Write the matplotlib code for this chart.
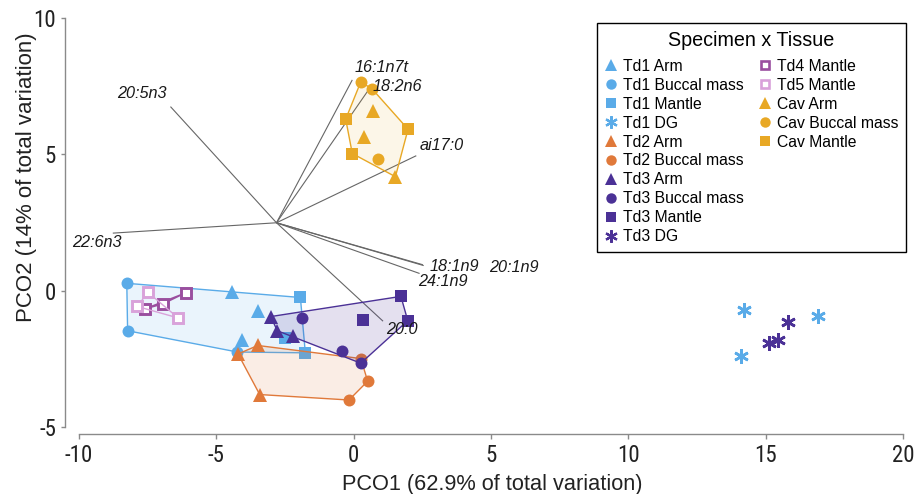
import numpy as np
import matplotlib
matplotlib.use('Agg')
import matplotlib.pyplot as plt
from matplotlib.lines import Line2D
from matplotlib import font_manager as fm

avail = {f.name for f in fm.fontManager.ttflist}
BASE = 'Liberation Sans' if 'Liberation Sans' in avail else 'DejaVu Sans'


def find_narrow():
    for name in ['Liberation Sans Narrow', 'Arial Narrow', 'Roboto Condensed',
                 'Open Sans Condensed', 'Noto Sans Condensed']:
        if name in avail:
            return name, 'normal'
    for f in fm.fontManager.ttflist:
        if f.name in ('Liberation Sans', 'Roboto', 'Open Sans', 'Noto Sans', 'Inter') \
                and str(f.stretch) in ('condensed', 'semi-condensed', '75', '87'):
            return f.name, f.stretch
    return None


NARROW = find_narrow()
plt.rcParams['font.family'] = [BASE, 'DejaVu Sans']
plt.rcParams['axes.unicode_minus'] = False

# ---------------- data (PCO1, PCO2 scores) ----------------
td1_arm_x = [-4.42, -3.49, -4.07]
td1_arm_y = [-0.06, -0.76, -1.80]
td1_buc_x = [-8.26, -8.23, -4.23]
td1_buc_y = [0.27, -1.47, -2.25]
td1_man_x = [-1.94, -1.76, -2.50]
td1_man_y = [-0.25, -2.28, -1.72]
td1_dg_x = [14.22, 16.91, 14.10]
td1_dg_y = [-0.71, -0.92, -2.38]
td2_arm_x = [-4.21, -3.49, -3.42]
td2_arm_y = [-2.32, -2.01, -3.81]
td2_buc_x = [0.26, 0.51, -0.17]
td2_buc_y = [-2.49, -3.32, -4.01]
td3_arm_x = [-3.02, -2.78, -2.22]
td3_arm_y = [-0.95, -1.47, -1.67]
td3_buc_x = [-1.88, -0.41, 0.26]
td3_buc_y = [-1.01, -2.20, -2.66]
td3_man_x = [1.72, 0.34, 1.97]
td3_man_y = [-0.21, -1.06, -1.10]
td3_dg_x = [15.80, 15.46, 15.13]
td3_dg_y = [-1.14, -1.81, -1.93]
td4_man_x = [-6.12, -6.95, -7.61]
td4_man_y = [-0.08, -0.49, -0.67]
td5_man_x = [-7.49, -7.88, -6.39]
td5_man_y = [-0.06, -0.58, -1.00]
cav_arm_x = [0.70, 0.38, 1.52]
cav_arm_y = [6.59, 5.62, 4.18]
cav_buc_x = [0.26, 0.68, 0.89]
cav_buc_y = [7.66, 7.39, 4.82]
cav_man_x = [-0.29, 1.98, -0.05]
cav_man_y = [6.29, 5.92, 5.03]

# vector overlay (fatty acids)
vector_names = ['20:5n3', '22:6n3', '16:1n7t', '18:2n6', 'ai17:0',
                '18:1n9', '20:1n9', '24:1n9', '20:0']
vector_x = [-6.67, -8.77, -0.05, 0.58, 2.28, 2.52, 2.55, 2.40, 1.07]
vector_y = [6.75, 2.11, 7.73, 7.42, 4.95, 0.95, 0.92, 0.63, -1.12]
vector_origin_x = -2.81
vector_origin_y = 2.49

x_ticks = [-10, -5, 0, 5, 10, 15, 20]
y_ticks = [-5, 0, 5, 10]
x_label = 'PCO1 (62.9% of total variation)'
y_label = 'PCO2 (14% of total variation)'
legend_title = 'Specimen x Tissue'

# ---------------- styles ----------------
C_TD1 = '#5aabe8'
C_TD2 = '#e0793a'
C_TD3 = '#4b3196'
C_TD4 = '#9a4f9f'
C_TD5 = '#d9a2da'
C_CAV = '#e8a825'

# label offsets in pixels (dx right, dy up) from vector tips
label_offsets = [(-53, 13), (-41, -9), (2, 12), (3, 2), (3, 10),
                 (7, -2), (65, -2), (-1, -8), (3, -8)]


def convex_hull(xs, ys):
    pts = sorted(set(zip(xs, ys)))
    if len(pts) < 3:
        return pts

    def cross(o, a, b):
        return (a[0] - o[0]) * (b[1] - o[1]) - (a[1] - o[1]) * (b[0] - o[0])
    lower, upper = [], []
    for p in pts:
        while len(lower) >= 2 and cross(lower[-2], lower[-1], p) <= 0:
            lower.pop()
        lower.append(p)
    for p in reversed(pts):
        while len(upper) >= 2 and cross(upper[-2], upper[-1], p) <= 0:
            upper.pop()
        upper.append(p)
    return lower[:-1] + upper[:-1]


W, H = 914, 494
fig = plt.figure(figsize=(W / 100, H / 100), dpi=100)
ax = fig.add_axes([79 / W, (H - 427) / H, 824 / W, 409 / H])
ax.set_xlim(-10, 20)
ax.set_ylim(-5, 10)

# vectors
for i, name in enumerate(vector_names):
    ax.plot([vector_origin_x, vector_x[i]], [vector_origin_y, vector_y[i]],
            color='#666666', lw=0.8, zorder=1, solid_capstyle='butt')
    dx, dy = label_offsets[i]
    ax.annotate(name, (vector_x[i], vector_y[i]), xytext=(dx * 0.72, dy * 0.72),
                textcoords='offset points', ha='left', va='center',
                fontsize=11.7, style='italic', color='#1a1a1a', zorder=20,
                annotation_clip=False)

# groups: hulls + points
groups = [
    (C_TD1, 0.12, True, [(td1_arm_x, td1_arm_y, '^'), (td1_buc_x, td1_buc_y, 'o'),
                         (td1_man_x, td1_man_y, 's')]),
    (C_TD2, 0.13, True, [(td2_arm_x, td2_arm_y, '^'), (td2_buc_x, td2_buc_y, 'o')]),
    (C_TD3, 0.15, True, [(td3_arm_x, td3_arm_y, '^'), (td3_buc_x, td3_buc_y, 'o'),
                         (td3_man_x, td3_man_y, 's')]),
    (C_TD4, 0.0, False, [(td4_man_x, td4_man_y, 'S')]),
    (C_TD5, 0.0, False, [(td5_man_x, td5_man_y, 'S')]),
    (C_CAV, 0.10, True, [(cav_arm_x, cav_arm_y, '^'), (cav_buc_x, cav_buc_y, 'o'),
                         (cav_man_x, cav_man_y, 's')]),
]

msize = {'^': 10.5, 'o': 8.6, 's': 8.4}
z = 2
for color, alpha, fill, members in groups:
    allx = sum([list(m[0]) for m in members], [])
    ally = sum([list(m[1]) for m in members], [])
    hull = convex_hull(allx, ally)
    hx = [p[0] for p in hull] + [hull[0][0]]
    hy = [p[1] for p in hull] + [hull[0][1]]
    if fill:
        ax.fill(hx, hy, color=color, alpha=alpha, lw=0, zorder=z)
    ax.plot(hx, hy, color=color, lw=1.0, zorder=z + 0.5)
    for xs, ys, mk in members:
        if mk == 'S':
            ax.plot(xs, ys, linestyle='none', marker='s', markersize=6.6,
                    markerfacecolor='white', markeredgecolor=color,
                    markeredgewidth=2.1, zorder=z + 1)
        else:
            ax.plot(xs, ys, linestyle='none', marker=mk, markersize=msize[mk],
                    color=color, markeredgewidth=0, zorder=z + 1)
    z += 2

# digestive gland asterisks
for xs, ys, color in [(td1_dg_x, td1_dg_y, C_TD1), (td3_dg_x, td3_dg_y, C_TD3)]:
    ax.plot(xs, ys, linestyle='none', marker=(6, 2, 0), markersize=10.5,
            markeredgewidth=1.9, color=color, zorder=z)

# axes styling
for s in ['top', 'right']:
    ax.spines[s].set_visible(False)
ax.spines['left'].set_position(('outward', 10))
ax.spines['bottom'].set_position(('outward', 5))
for s in ['left', 'bottom']:
    ax.spines[s].set_color('#8a8a8a')
    ax.spines[s].set_linewidth(1.0)
ax.set_xticks(x_ticks)
ax.set_yticks(y_ticks)
tick_size = 16.5 if NARROW else 15
ax.tick_params(axis='x', length=3.6, width=1, color='#8a8a8a', pad=3.5,
               labelsize=tick_size, labelcolor='#222222')
ax.tick_params(axis='y', length=3.0, width=1, color='#8a8a8a', pad=3.5,
               labelsize=tick_size, labelcolor='#222222')
if NARROW:
    for t in ax.get_xticklabels() + ax.get_yticklabels():
        t.set_fontfamily(NARROW[0])
        t.set_fontstretch(NARROW[1])
ax.set_xlabel(x_label, fontsize=15.7, color='#222222')
ax.xaxis.set_label_coords(0.502, -0.116)
ax.set_ylabel(y_label, fontsize=16, color='#222222')
ax.yaxis.set_label_coords(-0.051, 0.61)


# legend
def h(marker, color, ms, open_=False):
    if open_:
        return Line2D([], [], linestyle='none', marker=marker, markersize=ms - 1.5,
                      markerfacecolor='white', markeredgecolor=color, markeredgewidth=1.9)
    if marker == (6, 2, 0):
        return Line2D([], [], linestyle='none', marker=marker, markersize=ms,
                      color=color, markeredgewidth=1.6)
    return Line2D([], [], linestyle='none', marker=marker, markersize=ms,
                  color=color, markeredgewidth=0)


col1 = [
    (h('^', C_TD1, 9), 'Td1 Arm'), (h('o', C_TD1, 7.5), 'Td1 Buccal mass'),
    (h('s', C_TD1, 7.3), 'Td1 Mantle'), (h((6, 2, 0), C_TD1, 9), 'Td1 DG'),
    (h('^', C_TD2, 9), 'Td2 Arm'), (h('o', C_TD2, 7.5), 'Td2 Buccal mass'),
    (h('^', C_TD3, 9), 'Td3 Arm'), (h('o', C_TD3, 7.5), 'Td3 Buccal mass'),
    (h('s', C_TD3, 7.3), 'Td3 Mantle'), (h((6, 2, 0), C_TD3, 9), 'Td3 DG'),
]
col2 = [
    (h('s', C_TD4, 7.3, True), 'Td4 Mantle'), (h('s', C_TD5, 7.3, True), 'Td5 Mantle'),
    (h('^', C_CAV, 9), 'Cav Arm'), (h('o', C_CAV, 7.5), 'Cav Buccal mass'),
    (h('s', C_CAV, 7.3), 'Cav Mantle'),
]
blank = Line2D([], [], linestyle='none')
while len(col2) < len(col1):
    col2.append((blank, ''))
entries = col1 + col2
leg = ax.legend([e[0] for e in entries], [e[1] for e in entries], ncol=2,
                loc='upper right', bbox_to_anchor=(906 / W, (H - 23) / H),
                bbox_transform=fig.transFigure, borderaxespad=0,
                title=legend_title, fontsize=11.3, title_fontsize=14.2,
                frameon=True, fancybox=False, edgecolor='black', framealpha=1,
                handlelength=0.8, handletextpad=0.35, columnspacing=0.95,
                labelspacing=0.25, borderpad=0.5)
leg.get_frame().set_linewidth(1.0)
leg.set_zorder(30)
try:
    leg._legend_box.sep = 6.5
except Exception:
    pass

fig.savefig('out.png', dpi=100)
